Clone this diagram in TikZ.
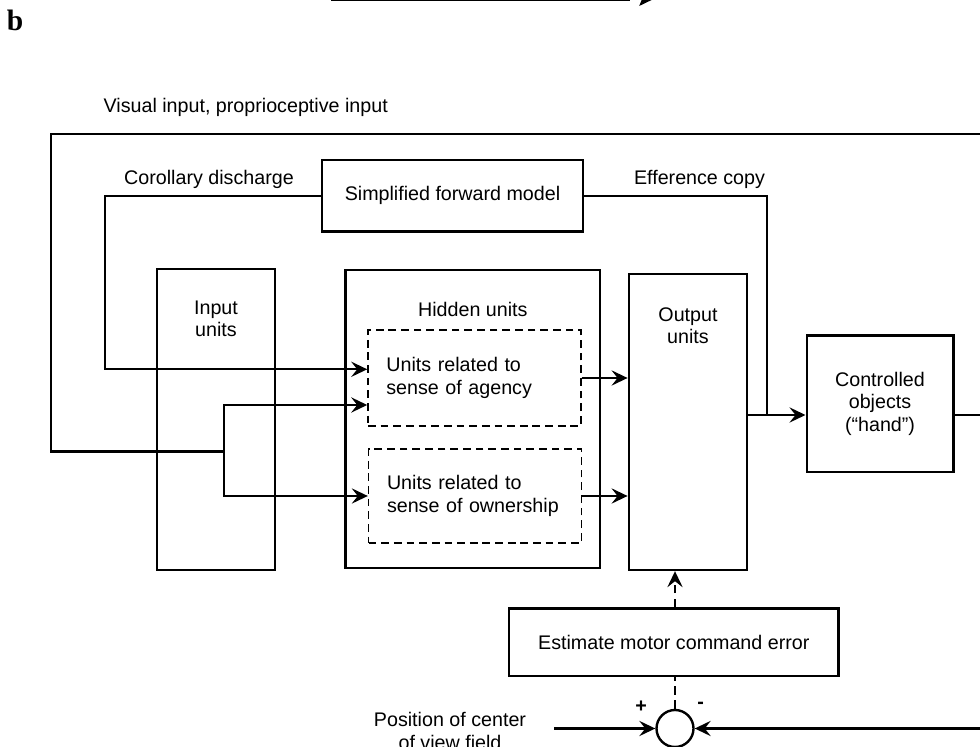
\documentclass[tikz,border=0pt]{standalone}
\usepackage{fontspec}
\setmainfont{Liberation Sans}
\newfontfamily\panelfont{Liberation Serif}
\usetikzlibrary{arrows.meta,calc}
\newcommand\lblfont{\fontsize{14pt}{15.8pt}\selectfont}

\begin{document}
\begin{tikzpicture}[
  x=1cm,y=1cm,
  line join=miter,
  box/.style={draw,line width=1.7pt,inner sep=0pt,font=\lblfont,align=center},
  dbox/.style={draw,line width=1.1pt,dash pattern=on 5.5pt off 3.5pt,inner ysep=0pt,
    inner xsep=0.46cm,text width=4.4cm,font=\lblfont,align=left},
  txt/.style={font=\lblfont,align=center,inner sep=1pt},
  wire/.style={line width=1.7pt},
  flow/.style={-{Stealth[length=4mm,width=3.8mm,inset=1.5mm]},line width=1.7pt},
  dflow/.style={flow,dash pattern=on 6pt off 4pt},
  dwire/.style={wire,dash pattern=on 6pt off 4pt}
]
\useasboundingbox (0,0) rectangle (24.5,18.675);

% Leftover of the panel above and the panel letter
\draw[line width=1.4pt] (8.275,18.675) -- (15.75,18.675);
\fill (15.98,18.525) -- (16.04,18.675) -- (16.29,18.675) -- cycle;
\node[font=\panelfont\bfseries\fontsize{21pt}{21pt}\selectfont,inner sep=0pt] (panel) at (0.375,18.16) {b};

% Network blocks
\node[box,minimum width=6.525cm,minimum height=1.79cm] (fwd) at (11.3125,13.78) {Simplified forward model};
\node[box,minimum width=2.95cm,minimum height=7.525cm] (inp) at (5.4,8.19) {};
\node[txt] (inplbl) at ($(inp.north)+(0,-1.275)$) {Input\\units};
\node[box,minimum width=6.36cm,minimum height=7.45cm] (hid) at (11.82,8.2) {};
\node[txt] (hidlbl) at ($(hid.north)+(0,-1.02)$) {Hidden units};
\node[dbox,minimum height=2.4cm] (agy) at (11.86,9.225) {Units related to\\sense of agency};
\node[dbox,minimum height=2.35cm] (own) at (11.875,6.275) {Units related to\\sense of ownership};
\node[box,minimum width=2.96cm,minimum height=7.4cm] (out) at (17.2,8.125) {};
\node[txt] (outlbl) at ($(out.north)+(0,-1.3175)$) {Output\\units};
\node[box,minimum width=3.665cm,minimum height=3.4cm] (ctl) at (22.0,8.5825) {Controlled\\objects\\(“hand”)};
\node[box,minimum width=8.225cm,minimum height=1.69cm] (err) at (16.845,2.62) {Estimate motor command error};
\node[draw,circle,line width=1.7pt,minimum size=0.925cm,inner sep=0pt] (sum) at (16.875,0.4625) {};

% Signal labels
\node[txt,anchor=west] (vislbl) at (2.55,16.0) {Visual input, proprioceptive input};
\node[txt] (cdlbl) at (5.225,14.2) {Corollary discharge};
\node[txt] (eclbl) at (17.4875,14.2) {Efference copy};
\node[txt] (poslbl) at (11.25,0.4) {Position of center\\of view field};
\node[txt,font=\lblfont\bfseries] (plus) at (16.025,1.0075) {+};
\node[txt,font=\lblfont\bfseries] (minus) at (17.5175,1.03) {-};

% Turning points and loose ends of the loops
\coordinate (vin) at (24.5,15.3175);
\coordinate (vturn) at (1.2675,7.3825);
\coordinate (split) at (5.6,7.3825);
\coordinate (cdturn) at (2.625,9.4425);
\coordinate (ecjoin) at (19.175,8.3);
\coordinate (fbout) at (24.5,8.3);
\coordinate (posin) at (13.85,0.4625);
\coordinate (fbin) at (24.5,0.4625);

% Sensory input feeding both hidden groups
\draw[wire] (vin) -| (vturn) -- (split);
\draw[flow] (split) |- ($(agy.west)+(0,-0.675)$);
\draw[flow] (split) |- (own.west);

% Forward model copies
\draw[flow] (fwd.west) -| (cdturn) -- ($(agy.west)+(0,0.2175)$);
\draw[wire] (fwd.east) -| (ecjoin);

% Hidden to output, output to hand
\draw[flow] (agy.east) -- (out.west |- agy.east);
\draw[flow] (own.east) -- (out.west |- own.east);
\draw[flow] (out.east |- ecjoin) -- (ctl.west |- ecjoin);
\draw[wire] (ctl.east |- fbout) -- (fbout);

% Error loop
\draw[dwire] (sum.north) -- (sum.north |- err.south);
\draw[dflow] (err.north -| sum) -- (out.south -| sum);
\draw[flow] (posin) -- (sum.west);
\draw[flow] (fbin) -- (sum.east);

\end{tikzpicture}
\end{document}
